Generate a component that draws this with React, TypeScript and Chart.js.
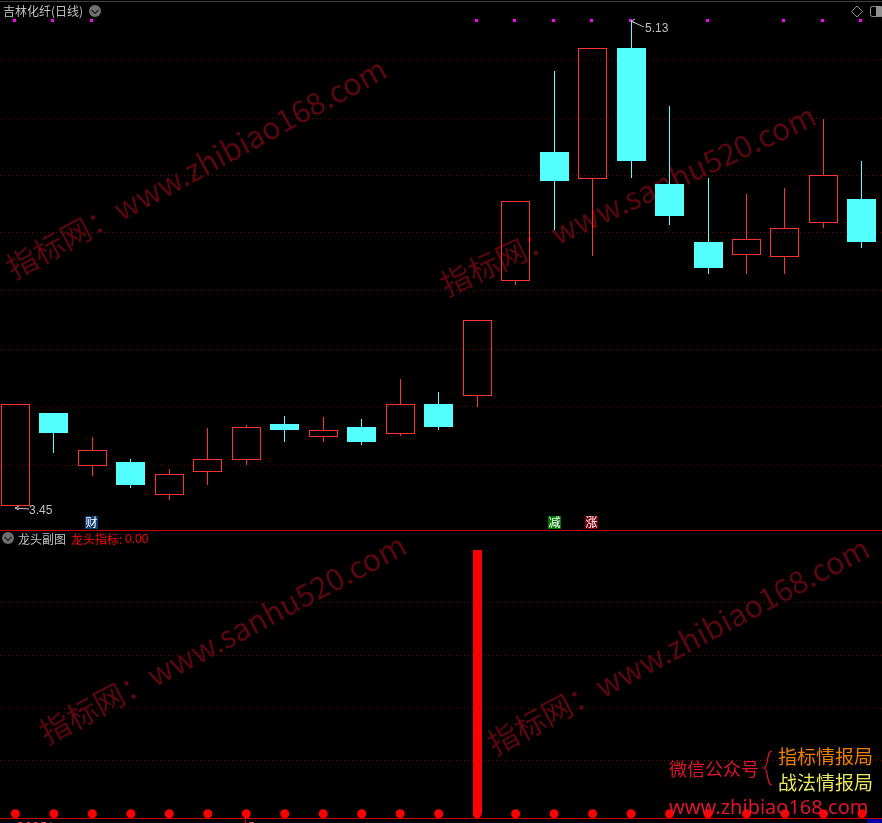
import React, { useEffect, useRef } from "react";
import { Chart, registerables } from "chart.js";

Chart.register(...registerables);

const WIDTH = 882;
const TOP_H = 530;
const BOTTOM_H = 293;

// daily candles, prices in yuan
const opens = [3.452, 3.772, 3.59, 3.603, 3.49, 3.569, 3.611, 3.734, 3.69, 3.724, 3.7, 3.803, 3.832, 4.229, 4.674, 4.582, 5.033, 4.563, 4.363, 4.319, 4.312, 4.43, 4.511];
const closes = [3.803, 3.703, 3.644, 3.523, 3.56, 3.612, 3.723, 3.713, 3.712, 3.672, 3.802, 3.724, 4.092, 4.504, 4.574, 5.032, 4.643, 4.453, 4.273, 4.372, 4.41, 4.593, 4.363];
const highs = [3.803, 3.772, 3.689, 3.613, 3.579, 3.72, 3.731, 3.762, 3.758, 3.751, 3.89, 3.845, 4.092, 4.504, 4.954, 5.032, 5.13, 4.833, 4.584, 4.529, 4.55, 4.788, 4.643];
const lows = [3.451, 3.635, 3.554, 3.513, 3.471, 3.523, 3.592, 3.672, 3.672, 3.661, 3.693, 3.713, 3.793, 4.214, 4.404, 4.315, 4.584, 4.422, 4.252, 4.252, 4.252, 4.411, 4.342];
const priceGrid = [4.992, 4.791, 4.591, 4.394, 4.194, 3.993, 3.793, 3.592];
const signalDays = [0, 1, 2, 12, 13, 14, 15, 16, 18, 20, 21, 22];
const signalPrice = 5.128;

// sub-chart
const indicatorBars = [0, 0, 0, 0, 0, 0, 0, 0, 0, 0, 0, 0, 100, 0, 0, 0, 0, 0, 0, 0, 0, 0, 0];
const indicatorDots = [0, 0, 0, 0, 0, 0, 0, 0, 0, 0, 0, 0, 0, 0, 0, 0, 0, 0, 0, 0, 0, 0, 0];
const indicatorGrid = [20, 40, 60, 80];

const days = opens.map((_, i) => i);

const RED = "#ff3232";
const CYAN = "#54ffff";
const GREY = "#c0c0c0";
const WM = "#5c0610";
const CJK = '"Noto Sans CJK SC"';
const DIGITS = '"Liberation Sans"';
const GRID = "#700a0a";

const setText = (ctx: any, font: string, color: string, spacing = "0px") => {
  ctx.font = font;
  ctx.fillStyle = color;
  ctx.textBaseline = "alphabetic";
  ctx.textAlign = "left";
  ctx.letterSpacing = spacing;
};

const watermark = (ctx: any, text: string, x: number, y: number, deg: number) => {
  ctx.save();
  ctx.translate(x, y);
  ctx.rotate((deg * Math.PI) / 180);
  setText(ctx, `30.5px ${CJK}`, WM);
  ctx.fillText(text, 0, 0);
  ctx.restore();
};

const roundIcon = (ctx: any, x: number, y: number) => {
  ctx.save();
  ctx.fillStyle = "#707070";
  ctx.beginPath();
  ctx.arc(x, y, 6, 0, Math.PI * 2);
  ctx.fill();
  ctx.strokeStyle = "#1c1c1c";
  ctx.lineWidth = 1.2;
  ctx.beginPath();
  ctx.moveTo(x - 3.5, y - 1);
  ctx.lineTo(x, y + 2.5);
  ctx.lineTo(x + 3.5, y - 1);
  ctx.stroke();
  ctx.restore();
};

const badge = (ctx: any, text: string, x: number, bg: string) => {
  ctx.fillStyle = bg;
  ctx.fillRect(x, 516, 13, 13);
  setText(ctx, `12px ${CJK}`, "#ffffff");
  ctx.fillText(text, x + 0.5, 527);
};

const priceArrow = (ctx: any, x1: number, y1: number, x2: number, y2: number) => {
  ctx.save();
  ctx.strokeStyle = GREY;
  ctx.lineWidth = 1;
  ctx.beginPath();
  ctx.moveTo(x1, y1);
  ctx.lineTo(x2, y2);
  ctx.moveTo(x1 + 4, y1 - 2);
  ctx.lineTo(x1, y1);
  ctx.lineTo(x1 + 4, y1 + 2);
  ctx.stroke();
  ctx.restore();
};

// keep bars and points on whole device pixels, as the terminal draws them
const snapPlugin = {
  id: "snap",
  beforeDatasetsDraw(chart: any) {
    chart.data.datasets.forEach((ds: any, i: number) => {
      const meta = chart.getDatasetMeta(i);
      meta.data.forEach((el: any) => {
        if (ds.type === "line") {
          if (ds.snapSquare) {
            el.x = Math.floor(el.x) - 0.5;
            el.y = Math.floor(el.y) + 0.5;
          }
          return;
        }
        el.x = Math.floor(el.x) + 0.5;
        el.y = Math.round(el.y);
        el.base = Math.round(el.base);
      });
    });
  },
};

const topDecor = {
  id: "topDecor",
  beforeDatasetsDraw(chart: any) {
    const ctx = chart.ctx;
    ctx.save();
    watermark(ctx, "指标网：www.zhibiao168.com", 14, 280, -28.5);
    watermark(ctx, "指标网：www.sanhu520.com", 447, 297, -25);
    ctx.restore();
  },
  afterDatasetsDraw(chart: any) {
    const ctx = chart.ctx;
    ctx.save();
    ctx.fillStyle = "#404040";
    ctx.fillRect(0, 1, WIDTH, 1);
    setText(ctx, `12px ${CJK}`, GREY);
    ctx.fillText("吉林化纤(日线)", 3, 16);
    roundIcon(ctx, 95, 11);
    // diamond and panel icons
    ctx.strokeStyle = "#909090";
    ctx.lineWidth = 1;
    ctx.beginPath();
    ctx.moveTo(857, 6);
    ctx.lineTo(862.5, 11.5);
    ctx.lineTo(857, 17);
    ctx.lineTo(851.5, 11.5);
    ctx.closePath();
    ctx.stroke();
    ctx.beginPath();
    ctx.roundRect(870.5, 6.5, 13, 10, 2);
    ctx.stroke();
    ctx.fillStyle = "#909090";
    ctx.fillRect(876, 7, 6, 9);
    // extremes
    priceArrow(ctx, 631, 21, 644, 27);
    setText(ctx, `12px ${DIGITS}`, GREY);
    ctx.fillText("5.13", 645, 32);
    priceArrow(ctx, 15, 508, 29, 509);
    ctx.fillText("3.45", 29, 514);
    badge(ctx, "财", 85, "#0a3a6e");
    badge(ctx, "减", 548, "#007800");
    badge(ctx, "涨", 585, "#7a0012");
    ctx.restore();
  },
};

const bottomDecor = {
  id: "bottomDecor",
  beforeDatasetsDraw(chart: any) {
    const ctx = chart.ctx;
    ctx.save();
    ctx.translate(0, -TOP_H);
    watermark(ctx, "指标网：www.sanhu520.com", 47, 745, -28);
    watermark(ctx, "指标网：www.zhibiao168.com", 495, 756, -28);
    ctx.restore();
  },
  afterDatasetsDraw(chart: any) {
    const ctx = chart.ctx;
    ctx.save();
    ctx.translate(0, -TOP_H);
    ctx.fillStyle = "#c80000";
    ctx.fillRect(0, 530, WIDTH, 1);
    roundIcon(ctx, 8, 538);
    setText(ctx, `12px ${CJK}`, GREY);
    ctx.fillText("龙头副图", 18, 544);
    setText(ctx, `12px ${CJK}`, "#ff0000");
    ctx.fillText("龙头指标:", 71, 544);
    setText(ctx, `12px ${DIGITS}`, "#ff0000");
    ctx.fillText("0.00", 125, 543);

    ctx.fillStyle = "#d00000";
    ctx.fillRect(0, 818, WIDTH, 1);
    ctx.fillStyle = "#0000a0";
    ctx.fillRect(867, 819, 15, 4);
    ctx.fillStyle = "#c00000";
    ctx.fillRect(245, 819, 1, 4);
    setText(ctx, `12px "DejaVu Sans"`, "#ff5050");
    ctx.fillText("2025/", 17, 831);
    ctx.fillText("5", 248, 831);

    // stamp
    setText(ctx, `18px ${CJK}`, "#e0142c");
    ctx.fillText("微信公众号", 669, 776);
    ctx.strokeStyle = "#e0142c";
    ctx.lineWidth = 1.2;
    ctx.beginPath();
    ctx.moveTo(772, 751);
    ctx.bezierCurveTo(766, 751, 769, 767, 764, 768);
    ctx.bezierCurveTo(769, 769, 766, 785, 772, 785);
    ctx.stroke();
    setText(ctx, `19px ${CJK}`, "#ee8000");
    ctx.fillText("指标情报局", 778, 764);
    setText(ctx, `19px ${CJK}`, "#e8e860");
    ctx.fillText("战法情报局", 778, 790);
    setText(ctx, `20px "Noto Sans"`, "#e0142c");
    ctx.fillText("www.zhibiao168.com", 669, 814);
    ctx.restore();
  },
};

const xScale = {
  type: "linear",
  display: false,
  offset: false,
  min: -0.3997,
  max: 22.5213,
  grid: { display: false, offset: false },
};

const gridScale = (min: number, max: number, values: number[]) => ({
  type: "linear",
  min,
  max,
  position: "left",
  afterBuildTicks: (scale: any) => {
    scale.ticks = values.map((value) => ({ value }));
  },
  ticks: { display: false },
  grid: { color: GRID, lineWidth: 1, drawTicks: false },
  border: { display: false, dash: [1, 3] },
});

const commonOptions = {
  responsive: false,
  animation: false,
  devicePixelRatio: 1,
  layout: { padding: 0, autoPadding: false },
  plugins: { legend: { display: false }, tooltip: { enabled: false } },
  events: [],
};

const barBase = {
  type: "bar",
  grouped: false,
  inflateAmount: 0,
  borderSkipped: false,
};

export default function App() {
  const topRef = useRef<HTMLCanvasElement>(null);
  const bottomRef = useRef<HTMLCanvasElement>(null);

  useEffect(() => {
    const isUp = (i: number) => closes[i] > opens[i];
    const bodyTop = (i: number) => Math.max(opens[i], closes[i]);
    const bodyBottom = (i: number) => Math.min(opens[i], closes[i]);
    const wickColors = days.map((i) => (isUp(i) ? RED : CYAN));

    const top = new Chart(topRef.current as any, {
      type: "bar",
      data: {
        datasets: [
          {
            ...barBase,
            label: "上影",
            barThickness: 1,
            backgroundColor: wickColors,
            borderWidth: 0,
            data: days.map((i) => ({ x: i, y: [bodyTop(i), highs[i]] })),
          },
          {
            ...barBase,
            label: "下影",
            barThickness: 1,
            backgroundColor: wickColors,
            borderWidth: 0,
            data: days.map((i) => ({ x: i, y: [lows[i], bodyBottom(i)] })),
          },
          {
            ...barBase,
            label: "K线",
            barThickness: 29,
            backgroundColor: days.map((i) => (isUp(i) ? "rgba(0,0,0,0)" : CYAN)),
            borderColor: days.map((i) => (isUp(i) ? RED : CYAN)),
            borderWidth: days.map((i) => (isUp(i) ? 1 : 0)),
            data: days.map((i) => ({ x: i, y: [opens[i], closes[i]] })),
          },
          {
            type: "line",
            label: "信号",
            snapSquare: true,
            showLine: false,
            pointStyle: "rect",
            pointRadius: 2.13,
            pointBorderWidth: 0,
            pointBackgroundColor: "#ff00ff",
            data: signalDays.map((d) => ({ x: d, y: signalPrice })),
          },
        ],
      },
      options: {
        ...commonOptions,
        scales: { x: xScale, y: gridScale(3.3677, 5.1991, priceGrid) },
      },
      plugins: [snapPlugin, topDecor],
    } as any);

    const bottom = new Chart(bottomRef.current as any, {
      type: "bar",
      data: {
        datasets: [
          {
            ...barBase,
            label: "龙头指标",
            barThickness: 9,
            backgroundColor: "#ff0000",
            borderWidth: 0,
            data: days.map((i) => ({ x: i, y: indicatorBars[i] })),
          },
          {
            type: "line",
            label: "点",
            showLine: false,
            pointStyle: "circle",
            pointRadius: 4.5,
            pointBorderWidth: 0,
            pointBackgroundColor: "#ff0000",
            data: days.map((i) => ({ x: i, y: indicatorDots[i] })),
          },
        ],
      },
      options: {
        ...commonOptions,
        scales: { x: xScale, y: gridScale(-3.527, 107.58, indicatorGrid) },
      },
      plugins: [snapPlugin, bottomDecor],
    } as any);

    return () => {
      top.destroy();
      bottom.destroy();
    };
  }, []);

  return (
    <div style={{ position: "absolute", left: 0, top: 0, width: WIDTH, height: TOP_H + BOTTOM_H, background: "#000", overflow: "hidden" }}>
      <canvas ref={topRef} width={WIDTH} height={TOP_H} style={{ position: "absolute", left: 0, top: 0, width: WIDTH, height: TOP_H }} />
      <canvas ref={bottomRef} width={WIDTH} height={BOTTOM_H} style={{ position: "absolute", left: 0, top: TOP_H, width: WIDTH, height: BOTTOM_H }} />
    </div>
  );
}
